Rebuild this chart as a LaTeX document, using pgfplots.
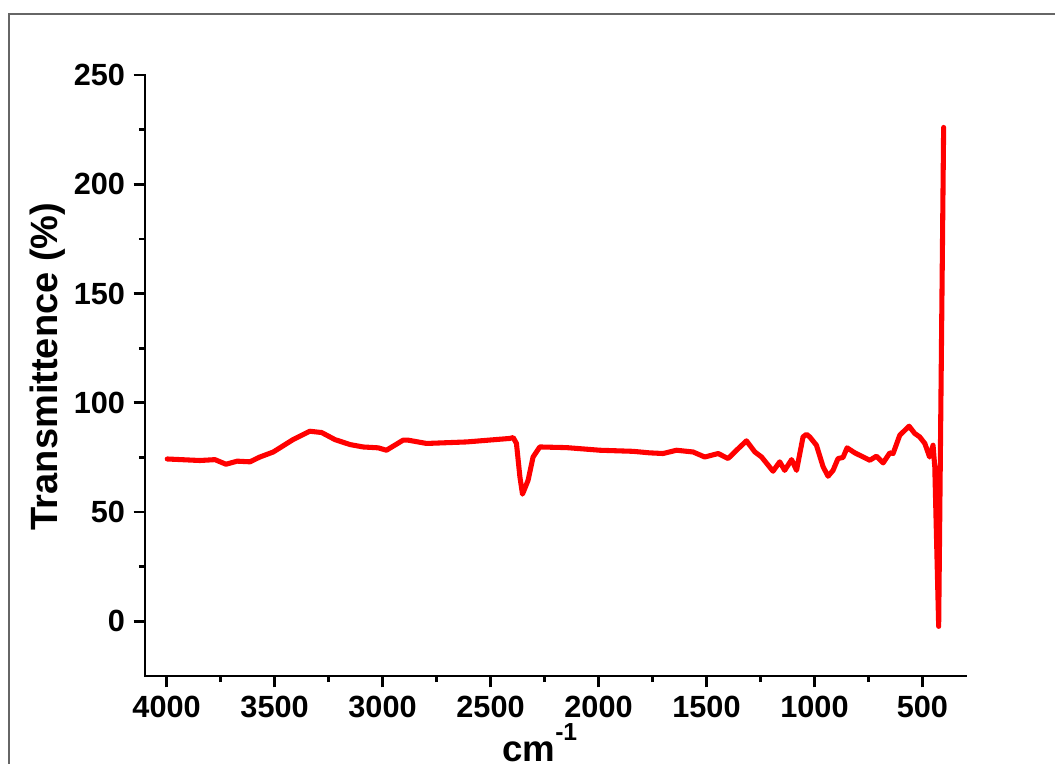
\documentclass[border=0pt]{standalone}
\usepackage{pgfplots}
\pgfplotsset{compat=1.18}
\usepackage{fontspec}
\setmainfont{Liberation Sans}
\begin{document}
\begin{tikzpicture}
\begin{axis}[
  at={(0pt,0pt)}, anchor=south west,
  scale only axis,
  width=615.5pt, height=450.75pt,
  x dir=reverse,
  xmin=300, xmax=4100,
  ymin=-25, ymax=250,
  axis lines*=left,
  axis line style={line width=2.2pt, line cap=rect},
  xtick={500,1000,...,4000},
  ytick={0,50,...,250},
  minor x tick num=1,
  minor y tick num=1,
  tick align=outside,
  tick style={line width=2pt, black},
  major tick length=8.5pt,
  minor tick length=4.5pt,
  tick label style={font=\fontsize{23}{26}\selectfont\bfseries},
  xticklabel style={yshift=-3pt},
  yticklabel style={xshift=-3pt},
  /pgf/number format/assume math mode=true,
  /pgf/number format/set thousands separator={},
  every axis y label/.style={at={(axis description cs:-0.119,0.515)},rotate=90,anchor=center},
  every axis x label/.style={at={(axis description cs:0.481,-0.142)},anchor=base},
  ylabel={\fontsize{28.5}{32}\selectfont\bfseries Transmittence (\%)},
  xlabel={\fontsize{27.5}{30}\selectfont\bfseries cm\raisebox{0.58em}{\fontsize{18.5}{20}\selectfont\bfseries -1}},
  clip=false,
]
\addplot[red, line width=3.8pt, line join=round, line cap=round] coordinates {
(3997,74.3) (3846,73.6) (3776,74.0) (3725,71.9) (3673,73.3) (3614,73.0)
(3568,75.2) (3506,77.5) (3414,83.2) (3337,87.0) (3282,86.4) (3221,83.2)
(3151,80.9) (3090,79.8) (3020,79.4) (2982,78.3) (2905,82.9) (2881,82.9)
(2796,81.4) (2611,82.1) (2411,83.7) (2395,84.1) (2380,81.4) (2364,66.1)
(2352,58.2) (2326,64.6) (2303,75.2) (2272,79.8) (2148,79.5) (1994,78.3)
(1840,77.8) (1763,77.1) (1701,76.8) (1639,78.3) (1562,77.5) (1508,75.2)
(1446,76.8) (1400,74.5) (1361,78.3) (1315,82.6) (1276,77.5) (1245,75.2)
(1192,68.7) (1161,73.0) (1138,69.1) (1106,74.0) (1083,69.1) (1053,84.4)
(1037,85.6) (1022,84.4) (991,80.6) (960,70.7) (937,66.4) (914,69.1)
(891,74.5) (868,75.0) (849,79.4) (813,77.1) (744,73.7) (713,75.6)
(682,72.5) (651,77.1) (636,76.8) (605,85.2) (562,89.3) (536,86.0)
(513,84.4) (489,81.4) (467,75.2) (451,80.6) (443,70.7) (425,-2.3)
(402,226)
};
\end{axis}
\draw[black!60, line width=1.5pt] (-102pt,-80pt) -- (-102pt,496.5pt) -- (700pt,496.5pt);
\pgfresetboundingbox
\useasboundingbox (-108.75pt,-65.25pt) rectangle (682.5pt,507pt);
\end{tikzpicture}
\end{document}
